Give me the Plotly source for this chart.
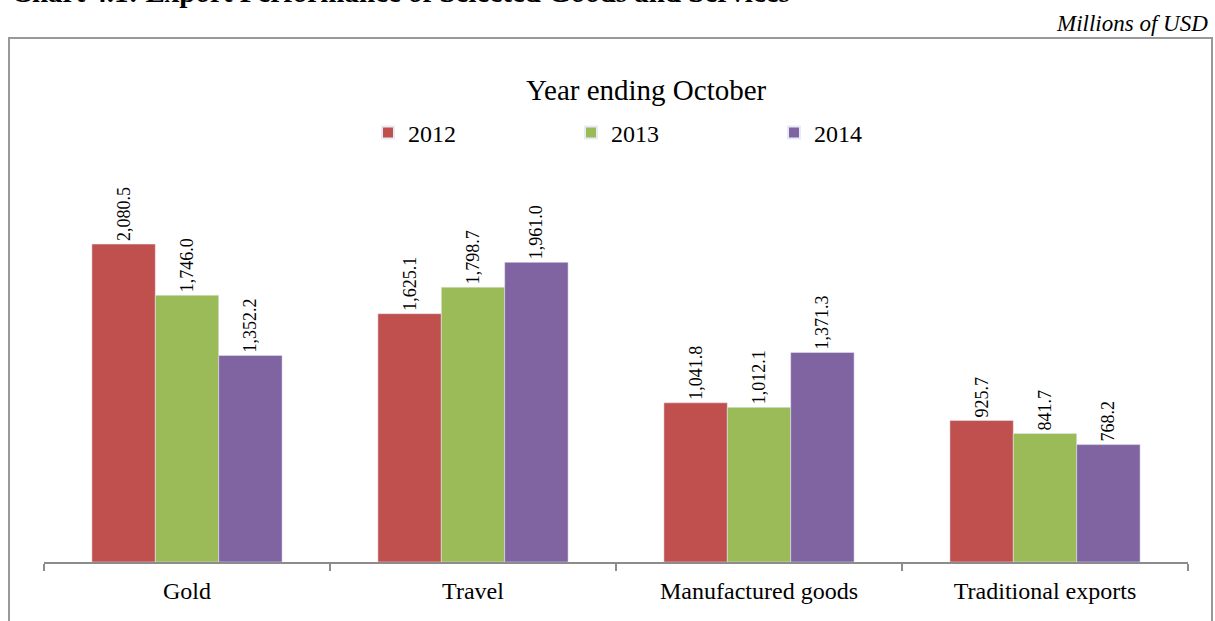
import plotly.graph_objects as go

categories = ['Gold', 'Travel', 'Manufactured goods', 'Traditional exports']
years = ['2012', '2013', '2014']
vals_2012 = [2080.5, 1625.1, 1041.8, 925.7]
vals_2013 = [1746.0, 1798.7, 1012.1, 841.7]
vals_2014 = [1352.2, 1961.0, 1371.3, 768.2]
colors = ['#C0504D', '#9BBB59', '#8064A2']

W, H = 1215, 621
FONT = 'Liberation Serif'

fig = go.Figure()
for name, vals, col in zip(years, [vals_2012, vals_2013, vals_2014], colors):
    fig.add_trace(go.Bar(
        x=categories, y=vals, name=name, marker_color=col,
        texttemplate='%{y:,.1f}', textposition='outside', textangle=-90,
        textfont=dict(family=FONT, size=18, color='black'),
        constraintext='none', cliponaxis=False,
    ))

fig.update_layout(
    width=W, height=H,
    margin=dict(l=0, r=0, t=0, b=0),
    paper_bgcolor='white', plot_bgcolor='white',
    barmode='group', bargap=0.335, bargroupgap=0,
    font=dict(family=FONT, color='black'),
    showlegend=True,
    legend=dict(orientation='h', x=368 / W, y=(H - 133) / H, yanchor='middle', xanchor='left',
                entrywidth=158, entrywidthmode='pixels',
                font=dict(family=FONT, size=24), itemsizing='constant'),
    xaxis=dict(domain=[44 / W, 1188 / W], showline=True, linecolor='#8c8c8c', linewidth=1.5,
               ticks='outside', tickson='boundaries', ticklen=7, tickcolor='#8c8c8c', tickwidth=1.5,
               ticklabelstandoff=6,
               tickfont=dict(family=FONT, size=24, color='black')),
    yaxis=dict(domain=[(H - 562) / H, (H - 180) / H], range=[0, 2500], visible=False),
)

fig.add_annotation(text='Year ending October', xref='paper', yref='paper',
                   x=646 / W, y=(H - 90) / H, xanchor='center', yanchor='middle', showarrow=False,
                   font=dict(family=FONT, size=29, color='black'))
fig.add_annotation(text='<b>Chart 4.1: Export Performance of Selected Goods and Services</b>',
                   xref='paper', yref='paper', x=9 / W, y=(H + 8) / H,
                   xanchor='left', yanchor='middle', showarrow=False,
                   font=dict(family=FONT, size=29, color='black'))
fig.add_annotation(text='<i>Millions of USD</i>', xref='paper', yref='paper',
                   x=1210 / W, y=(H - 24) / H, xanchor='right', yanchor='middle', showarrow=False,
                   font=dict(family=FONT, size=23, color='black'))
fig.add_shape(type='rect', xref='paper', yref='paper',
              x0=9 / W, x1=1212 / W, y0=-0.1, y1=(H - 38) / H,
              line=dict(color='#999999', width=2), layer='below')

fig.write_html('out.html', config={'displayModeBar': False},
               post_script="document.body.style.margin='0';document.body.style.overflow='hidden';")
